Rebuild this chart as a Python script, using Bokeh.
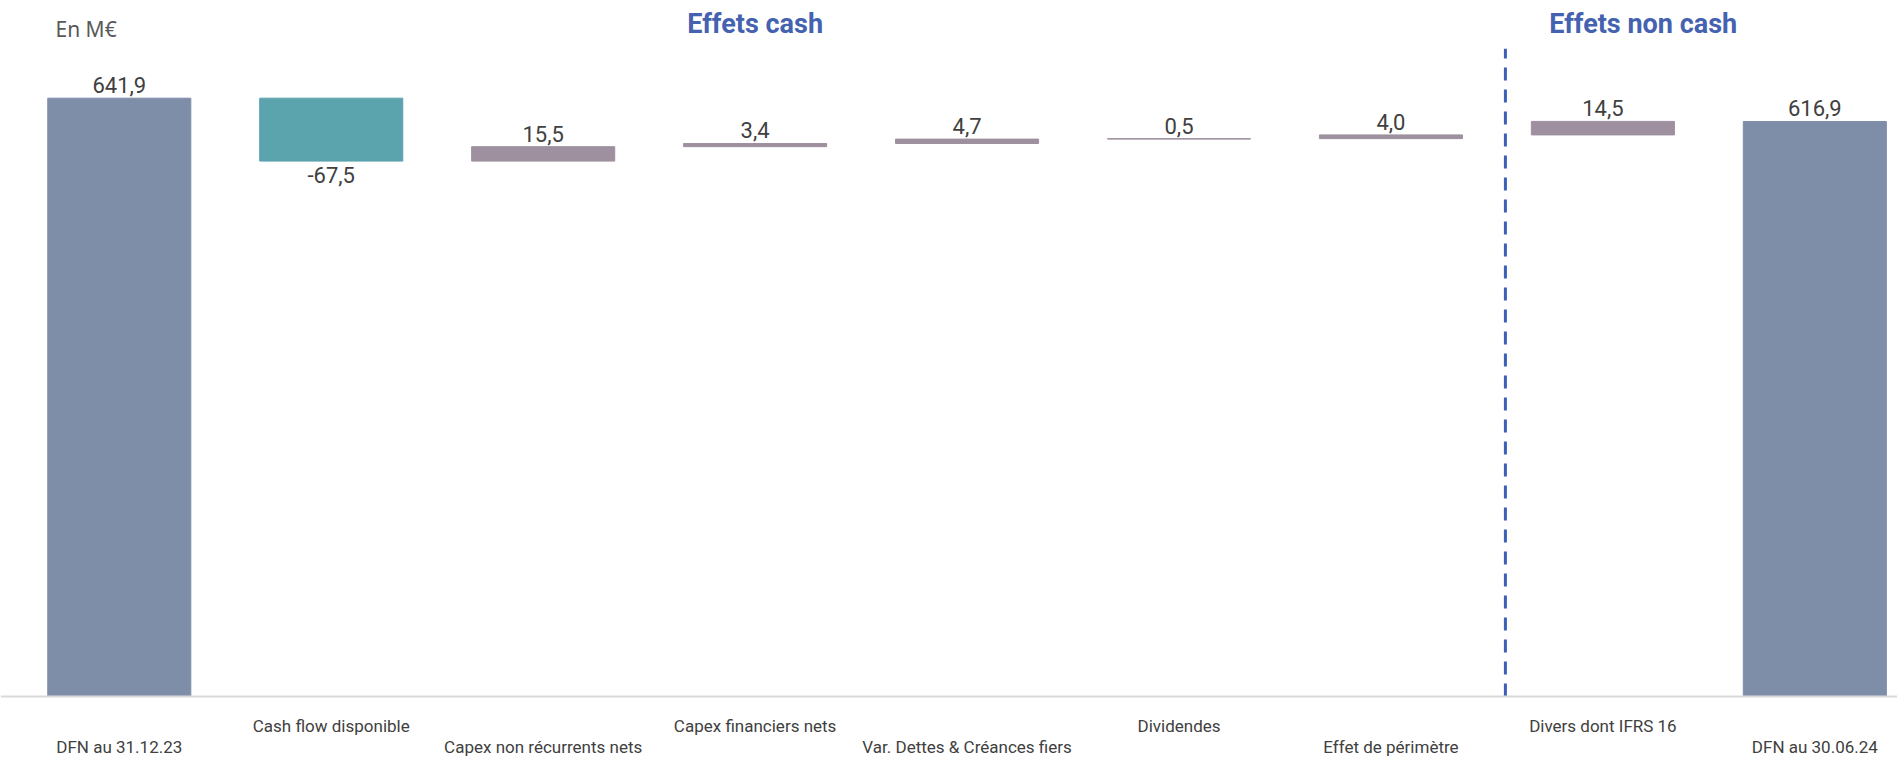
from bokeh.plotting import figure
from bokeh.models import ColumnDataSource, Range1d, Span
from bokeh.core.properties import value
from bokeh.embed import file_html
from bokeh.resources import INLINE

# ---- data ----
categories = [
    "DFN au 31.12.23", "Cash flow disponible", "Capex non récurrents nets",
    "Capex financiers nets", "Var. Dettes & Créances fiers", "Dividendes",
    "Effet de périmètre", "Divers dont IFRS 16", "DFN au 30.06.24",
]
amounts = [641.9, -67.5, 15.5, 3.4, 4.7, 0.5, 4.0, 14.5, 616.9]
kinds = ["total", "neg", "pos", "pos", "pos", "pos", "pos", "pos", "total"]
value_labels = ["641,9", "-67,5", "15,5", "3,4", "4,7", "0,5", "4,0", "14,5", "616,9"]
unit_label = "En M€"
section_titles = ["Effets cash", "Effets non cash"]

# ---- styles ----
colors = {"total": "#7f8ea8", "neg": "#5ba3ad", "pos": "#9e909e"}
FONT = "Roboto"
TEXT_COL = "#404040"

# ---- waterfall geometry ----
xs = list(range(len(categories)))
bottoms, tops = [], []
running = 0.0
for a, k in zip(amounts, kinds):
    if k == "total":
        b, t = 0.0, a
        running = a
    else:
        b, t = sorted([running, running + a])
        running += a
    bottoms.append(b)
    tops.append(t)

bar_src = ColumnDataSource(dict(
    x=xs, bottom=bottoms, top=tops,
    color=[colors[k] for k in kinds],
))

pos_idx = [i for i, a in enumerate(amounts) if a >= 0]
neg_idx = [i for i, a in enumerate(amounts) if a < 0]
lab_pos = ColumnDataSource(dict(x=[xs[i] for i in pos_idx], y=[tops[i] for i in pos_idx],
                                t=[value_labels[i] for i in pos_idx]))
lab_neg = ColumnDataSource(dict(x=[xs[i] for i in neg_idx], y=[bottoms[i] for i in neg_idx],
                                t=[value_labels[i] for i in neg_idx]))

upper = [i for i in xs if i % 2 == 1]
lower = [i for i in xs if i % 2 == 0]
cat_up = ColumnDataSource(dict(x=upper, y=[0] * len(upper), t=[categories[i] for i in upper]))
cat_lo = ColumnDataSource(dict(x=lower, y=[0] * len(lower), t=[categories[i] for i in lower]))

p = figure(width=1897, height=758, output_backend="svg", toolbar_location=None,
           x_range=Range1d(-0.5605, 8.390), y_range=Range1d(-66.5, 746.7),
           x_axis_location=None, y_axis_location=None, min_border=0)
p.outline_line_color = None
p.grid.visible = False
p.background_fill_color = "white"
p.border_fill_color = "white"

# baseline
p.add_layout(Span(location=0, dimension="width", line_color="#d9d9d9", line_width=2))

# bars
p.vbar(x="x", bottom="bottom", top="top", width=0.675, source=bar_src,
       fill_color="color", line_color="color", line_width=1)

# separator between cash and non cash effects
sep_x = 6.54
p.segment(x0=[sep_x], y0=[0], x1=[sep_x], y1=[695], line_color="#3e5fb8",
          line_width=3, line_dash="13 9")

# value labels
p.text(x="x", y="y", text="t", source=lab_pos, text_align="center",
       text_baseline="bottom", y_offset=-5, text_font=value(FONT),
       text_font_size="22px", text_color=TEXT_COL)
p.text(x="x", y="y", text="t", source=lab_neg, text_align="center",
       text_baseline="top", y_offset=6, text_font=value(FONT),
       text_font_size="22px", text_color=TEXT_COL)

# category labels (staggered)
p.text(x="x", y="y", text="t", source=cat_up, text_align="center",
       text_baseline="middle", y_offset=29, text_font=value(FONT),
       text_font_size="17px", text_color=TEXT_COL)
p.text(x="x", y="y", text="t", source=cat_lo, text_align="center",
       text_baseline="middle", y_offset=50, text_font=value(FONT),
       text_font_size="17px", text_color=TEXT_COL)

# headers
p.text(x=[3, 7.19], y=[721, 721], text=section_titles, text_align="center",
       text_baseline="middle", text_font=value(FONT), text_font_style="bold",
       text_font_size="27px", text_color="#4462b0")
p.text(x=[-0.301], y=[715.6], text=[unit_label], text_align="left",
       text_baseline="middle", text_font=value("Noto Sans"),
       text_font_size="21px", text_color="#595959")

open("out.html", "w").write(file_html(p, INLINE))
